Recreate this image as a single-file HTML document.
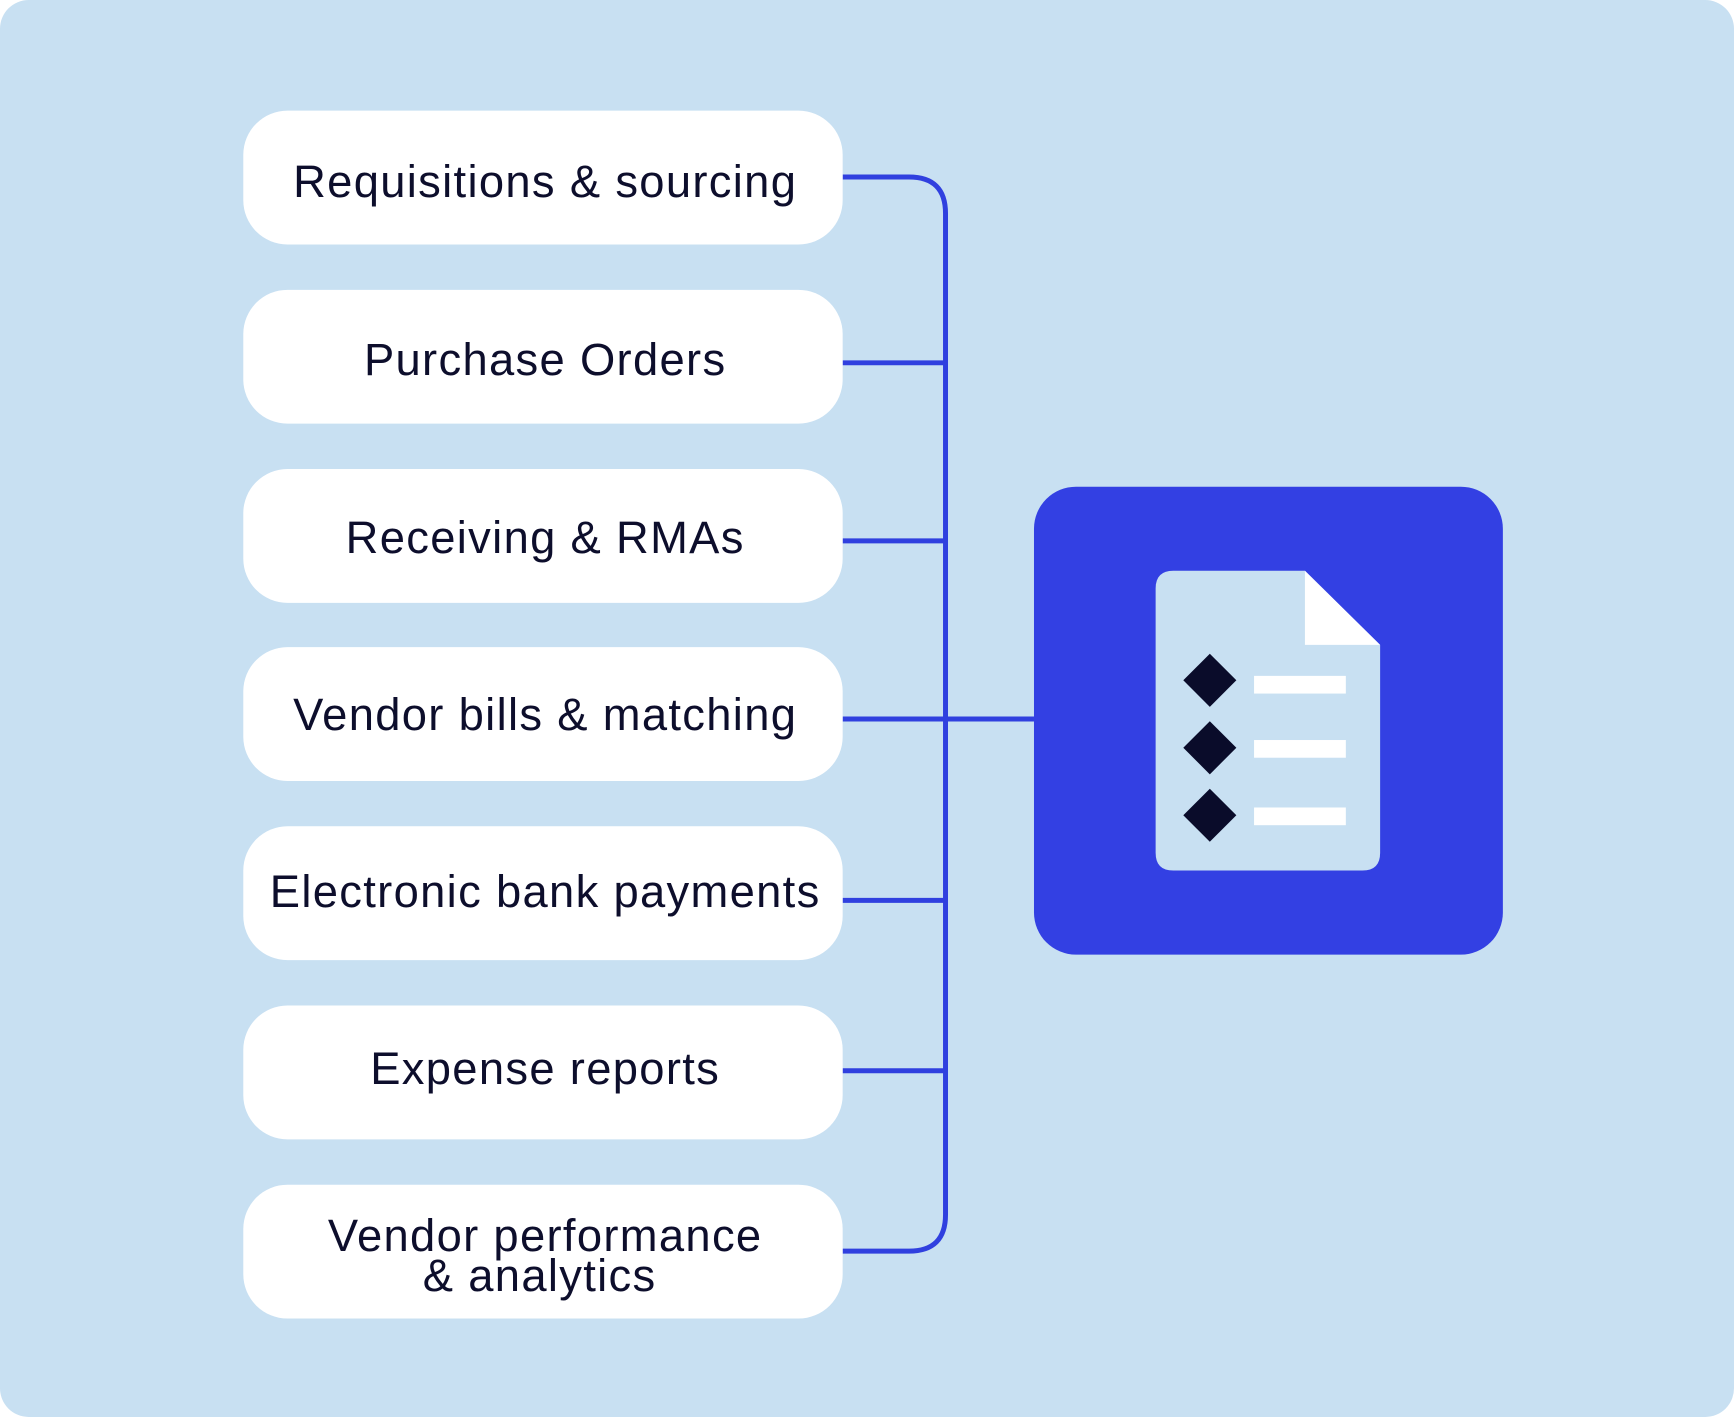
<!DOCTYPE html>
<html><head><meta charset="utf-8"><style>
html,body{margin:0;padding:0;background:#fff;}
svg{display:block;}
text{font-family:"Liberation Sans",sans-serif;font-size:41px;letter-spacing:1.2px;fill:#0d0e2c;text-anchor:middle;}
</style></head><body>
<svg width="1734" height="1417" viewBox="0 0 1568 1281" preserveAspectRatio="none" xmlns="http://www.w3.org/2000/svg">
<rect x="0" y="0" width="1568" height="1281" rx="26" fill="#c8e0f2"/>
<g fill="none" stroke="#3040df" stroke-width="4.5">
<path d="M762 160 H822 Q855 160 855 193 V1098 Q855 1131 822 1131 H762"/>
<path d="M762 328 H855 M762 489 H855 M762 650 H935 M762 814 H855 M762 968 H855"/>
</g>
<g fill="#fff">
<rect x="220" y="100" width="542" height="121" rx="40"/>
<rect x="220" y="262" width="542" height="121" rx="40"/>
<rect x="220" y="424" width="542" height="121" rx="40"/>
<rect x="220" y="585" width="542" height="121" rx="40"/>
<rect x="220" y="747" width="542" height="121" rx="40"/>
<rect x="220" y="909" width="542" height="121" rx="40"/>
<rect x="220" y="1071" width="542" height="121" rx="40"/>
</g>
<text x="493" y="178">Requisitions &amp; sourcing</text>
<text x="493" y="339">Purchase Orders</text>
<text x="493" y="500">Receiving &amp; RMAs</text>
<text x="493" y="660">Vendor bills &amp; matching</text>
<text x="493" y="820">Electronic bank payments</text>
<text x="493" y="980">Expense reports</text>
<text x="493" y="1131">Vendor performance</text>
<text x="488" y="1167">&amp; analytics</text>
<rect x="935" y="440" width="424" height="423" rx="38" fill="#3340e3"/>
<path d="M1061 516 H1180 L1248 583 V771 Q1248 787 1232 787 H1061 Q1045 787 1045 771 V532 Q1045 516 1061 516 Z" fill="#c8e0f2"/>
<path d="M1180 516 L1248 583 H1180 Z" fill="#fff"/>
<g fill="#0a0c2a">
<path d="M1094 591 L1118 615 L1094 639 L1070 615 Z"/>
<path d="M1094 652 L1118 676 L1094 700 L1070 676 Z"/>
<path d="M1094 713 L1118 737 L1094 761 L1070 737 Z"/>
</g>
<g fill="#fff">
<rect x="1134" y="611" width="83" height="16"/>
<rect x="1134" y="669" width="83" height="16"/>
<rect x="1134" y="730" width="83" height="16"/>
</g>
</svg>
</body></html>
